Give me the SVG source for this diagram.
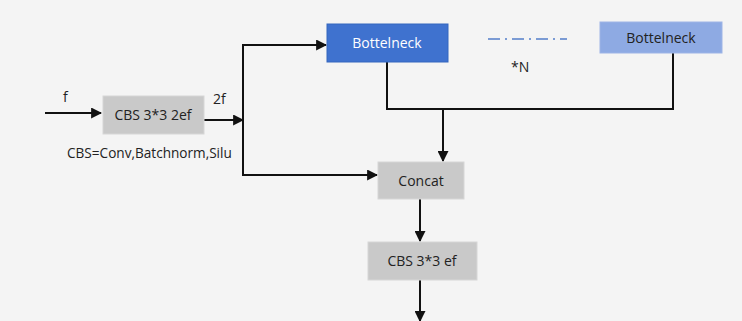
<svg xmlns="http://www.w3.org/2000/svg" width="742" height="321" viewBox="0 0 742 321">
<style>
.t{font-family:"Open Sans","DejaVu Sans",sans-serif;font-size:14px;fill:#222}
.c{text-anchor:middle}
.box{fill:#c9c9c9;stroke:#d6d6d6;stroke-width:1}
.ln{fill:none;stroke:#111;stroke-width:2}
</style>
<defs>
<marker id="ah" viewBox="0 0 10 10" refX="9" refY="5" markerWidth="5.5" markerHeight="5.5" orient="auto" markerUnits="strokeWidth">
<path d="M0,0 L10,5 L0,10 z" fill="#111"/>
</marker>
</defs>
<rect width="742" height="321" fill="#f4f4f4"/>
<g id="connectors">
<line class="ln" x1="45" y1="113" x2="101" y2="113" marker-end="url(#ah)"/>
<line class="ln" x1="204" y1="120" x2="243" y2="120" marker-end="url(#ah)"/>
<polyline class="ln" points="243,45 243,175 377,175" marker-end="url(#ah)"/>
<line class="ln" x1="242" y1="45" x2="326" y2="45" marker-end="url(#ah)"/>
<polyline class="ln" points="387,62 387,109 673,109 673,53"/>
<line class="ln" x1="443" y1="109" x2="443" y2="161" marker-end="url(#ah)"/>
<line class="ln" x1="420" y1="199" x2="420" y2="241" marker-end="url(#ah)"/>
<line class="ln" x1="420" y1="280" x2="420" y2="321" marker-end="url(#ah)"/>
<line x1="488" y1="39" x2="567" y2="39" stroke="#7b9bd4" stroke-width="2" stroke-dasharray="12,5,2,5"/>
</g>
<g id="cbs1">
<rect class="box" x="103" y="96" width="101" height="38"/>
<text class="t c" x="153" y="120">CBS 3*3 2ef</text>
</g>
<g id="bottleneck1">
<rect x="327" y="24" width="121" height="38" fill="#3f72cf" stroke="#3566be"/>
<text class="t c" x="387" y="48" style="fill:#fff">Bottelneck</text>
</g>
<g id="bottleneck2">
<rect x="600" y="22" width="122" height="31" fill="#8eaae3" stroke="#9db4e6"/>
<text class="t c" x="661" y="43">Bottelneck</text>
</g>
<g id="concat">
<rect class="box" x="378" y="162" width="86" height="37"/>
<text class="t c" x="421" y="186">Concat</text>
</g>
<g id="cbs2">
<rect class="box" x="368" y="242" width="109" height="38"/>
<text class="t c" x="422" y="266">CBS 3*3 ef</text>
</g>
<g id="labels">
<text class="t" x="63" y="102">f</text>
<text class="t" x="213" y="104">2f</text>
<text class="t" x="67" y="158" style="font-size:13.6px">CBS=Conv,Batchnorm,Silu</text>
<text class="t" x="511" y="72">*N</text>
</g>
</svg>
